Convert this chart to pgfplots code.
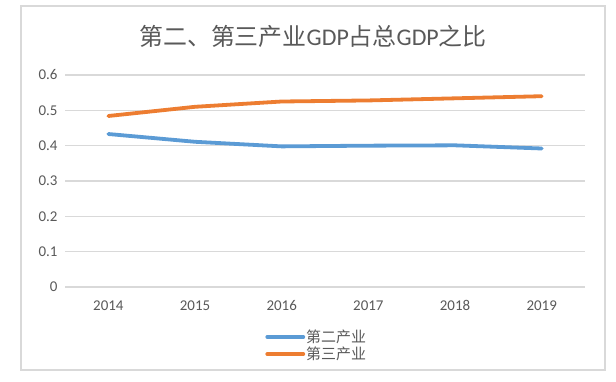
\documentclass[border=0pt]{standalone}
\usepackage{pgfplots}
\pgfplotsset{compat=1.18}
\usepackage{fontspec}
\setmainfont{Carlito}
\newfontfamily\cjk{Noto Sans CJK SC}
\definecolor{sblue}{HTML}{5B9BD5}
\definecolor{sorange}{HTML}{ED7D31}
\definecolor{gridc}{HTML}{D9D9D9}
\definecolor{txt}{HTML}{595959}
\begin{document}
\begin{tikzpicture}[x=1bp,y=1bp]
\useasboundingbox (0,0) rectangle (616,381);
\fill[white] (0,0) rectangle (616,381);
\draw[gridc, line width=1.6bp] (21,11) rectangle (605,375);
\node[txt, font={\fontsize{24}{26}\selectfont}] at (313,345) {{\cjk 第二、第三产业}GDP{\cjk 占总}GDP{\cjk 之比}};
\begin{axis}[
  at={(65bp,94bp)}, anchor=south west,
  scale only axis, width=520bp, height=212bp,
  xmin=2013.5, xmax=2019.5, ymin=0, ymax=0.6,
  xtick={2014,2015,2016,2017,2018,2019},
  xticklabels={2014,2015,2016,2017,2018,2019},
  ytick={0,0.1,0.2,0.3,0.4,0.5,0.6},
  yticklabels={0,0.1,0.2,0.3,0.4,0.5,0.6},
  /pgf/number format/assume math mode=true,
  ymajorgrids, grid style={gridc, line width=1.2bp},
  axis line style={draw=none},
  axis x line*=bottom, axis y line*=left,
  x axis line style={gridc, line width=1.2bp},
  major tick length=0pt,
  tick label style={txt, font={\fontsize{15}{17}\selectfont}},
  xticklabel style={yshift=-10bp},
  yticklabel style={xshift=-4bp},
  legend style={at={(0.385,-0.276)}, anchor=west, draw=none, fill=none,
    inner sep=0pt, row sep=1bp,
    nodes={inner sep=1bp, text=txt, font={\cjk\fontsize{15}{15}\selectfont}}},
  legend cell align=left,
  legend image code/.code={\draw[#1, line width=3.8bp, line cap=round] (0bp,0bp) -- (36bp,0bp);},
]
\addplot[sblue, line width=3.8bp, line cap=round, line join=round] coordinates {
(2014,0.433) (2015,0.411) (2016,0.398) (2017,0.400) (2018,0.401) (2019,0.392)};
\addlegendentry{第二产业}
\addplot[sorange, line width=3.8bp, line cap=round, line join=round] coordinates {
(2014,0.484) (2015,0.510) (2016,0.525) (2017,0.528) (2018,0.534) (2019,0.540)};
\addlegendentry{第三产业}
\end{axis}
\end{tikzpicture}
\end{document}
